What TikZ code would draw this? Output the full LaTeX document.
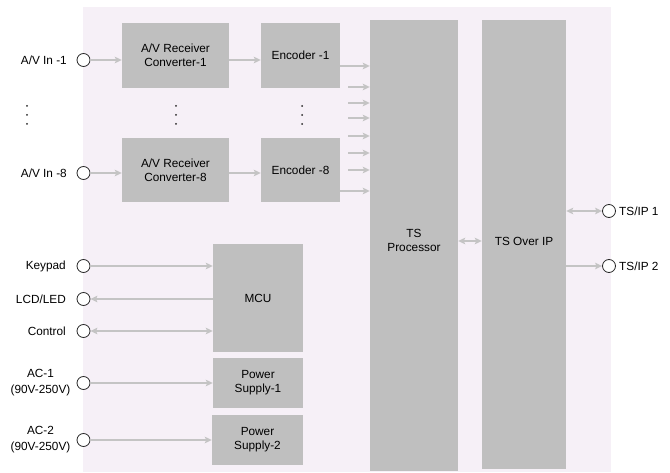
\documentclass[tikz,border=0pt]{standalone}
\usepackage{fontspec}
\setmainfont{Liberation Sans}
\usetikzlibrary{arrows.meta}
\definecolor{bgpink}{RGB}{246,240,247}
\definecolor{boxgray}{RGB}{191,191,191}
\definecolor{arrgray}{RGB}{196,196,196}
\definecolor{ringcol}{RGB}{40,40,40}
\tikzset{
  blk/.style={fill=boxgray, draw=none, align=center, inner sep=0pt, font=\fontsize{11.8}{14}\selectfont},
  port/.style={circle, draw=ringcol, fill=white, line width=0.8pt, minimum size=13pt, inner sep=0pt},
  lbl/.style={inner sep=0pt, align=center, font=\fontsize{11.8}{16}\selectfont},
  arr/.style={draw=arrgray, line width=1.6pt, -{Stealth[length=7pt,width=6.5pt,inset=1.5pt]}},
  barr/.style={draw=arrgray, line width=1.6pt, {Stealth[length=7pt,width=6.5pt,inset=1.5pt]}-{Stealth[length=7pt,width=6.5pt,inset=1.5pt]}},
  larr/.style={draw=arrgray, line width=1.6pt, {Stealth[length=7pt,width=6.5pt,inset=1.5pt]}-},
  vdot/.style={circle, fill=black!85, inner sep=0pt, minimum size=2pt}
}
\begin{document}
\begin{tikzpicture}[x=1pt,y=-1pt]
\useasboundingbox (0,0) rectangle (670,473);
\fill[bgpink] (83,7) rectangle (611,472);
% blocks
\node[blk, minimum width=107pt, minimum height=65pt] (rc1) at (175.5,55.5) {A/V Receiver\\Converter-1};
\node[blk, minimum width=107pt, minimum height=64pt] (rc8) at (175.5,170) {A/V Receiver\\Converter-8};
\node[blk, minimum width=79pt, minimum height=65pt] (enc1) at (300.5,55.5) {Encoder -1};
\node[blk, minimum width=79pt, minimum height=64pt] (enc8) at (300.5,170) {Encoder -8};
\node[blk, minimum width=88pt, minimum height=451pt] (tsp) at (414,245.5) {};
\node[lbl, font=\fontsize{11.8}{14}\selectfont] (tsplbl) at (414,240) {TS\\Processor};
\node[blk, minimum width=84pt, minimum height=449pt] (tso) at (524,244.5) {};
\node[lbl] (tsolbl) at (524,241) {TS Over IP};
\node[blk, minimum width=90pt, minimum height=108pt] (mcu) at (258,298) {MCU};
\node[blk, minimum width=90pt, minimum height=50pt] (ps1) at (258,383) {Power\\Supply-1};
\node[blk, minimum width=91pt, minimum height=50pt] (ps2) at (257.5,440) {Power\\Supply-2};
% ports
\node[port] (in1) at (83.5,60) {};
\node[port] (in8) at (83.5,173) {};
\node[port] (kp) at (83.5,266) {};
\node[port] (lcd) at (83.5,299) {};
\node[port] (ctl) at (83.5,331) {};
\node[port] (ac1) at (83.5,383) {};
\node[port] (ac2) at (83.5,440) {};
\node[port] (ip1) at (609,211) {};
\node[port] (ip2) at (609,266) {};
% port labels
\node[lbl, anchor=east] (lin1) at (67,60) {A/V In -1};
\node[lbl, anchor=east] (lin8) at (67,173) {A/V In -8};
\node[lbl, anchor=east] (lkp) at (66,266) {Keypad};
\node[lbl, anchor=east] (llcd) at (66,299) {LCD/LED};
\node[lbl, anchor=east] (lctl) at (66,331) {Control};
\node[lbl] (lac1) at (40.5,383) {AC-1\\(90V-250V)};
\node[lbl] (lac2) at (40.5,440) {AC-2\\(90V-250V)};
\node[lbl, anchor=west] (lip1) at (619,211) {TS/IP 1};
\node[lbl, anchor=west] (lip2) at (619,266) {TS/IP 2};
% vertical dots
\foreach \x/\n in {27/a,176/b,302/c}{
  \node[vdot] (d\n1) at (\x,106) {};
  \node[vdot] (d\n2) at (\x,115) {};
  \node[vdot] (d\n3) at (\x,124) {};
}
% short arrow starts
\coordinate (s1) at (348,87);
\coordinate (s2) at (348,103);
\coordinate (s3) at (348,118);
\coordinate (s4) at (348,136);
\coordinate (s5) at (348,153);
\coordinate (s6) at (348,170);
% connectors
\draw[arr] (in1.east) -- (in1.east -| rc1.west);
\draw[arr] (rc1.east |- in1.center) -- (enc1.west |- in1.center);
\draw[arr] ([yshift=-10.5pt]enc1.east) -- ([yshift=-10.5pt]enc1.east -| tsp.west);
\draw[arr] (in8.east) -- (in8.east -| rc8.west);
\draw[arr] (rc8.east |- in8.center) -- (enc8.west |- in8.center);
\draw[arr] ([yshift=-21pt]enc8.east) -- ([yshift=-21pt]enc8.east -| tsp.west);
\foreach \s in {s1,s2,s3,s4,s5,s6}{
  \draw[arr] (\s) -- (\s -| tsp.west);
}
\draw[arr] (kp.east) -- (kp.east -| mcu.west);
\draw[larr] (lcd.east) -- (lcd.east -| mcu.west);
\draw[barr] (ctl.east) -- (ctl.east -| mcu.west);
\draw[arr] (ac1.east) -- (ac1.east -| ps1.west);
\draw[arr] (ac2.east) -- (ac2.east -| ps2.west);
\draw[barr] (tsp.east |- tsolbl.center) -- (tso.west |- tsolbl.center);
\draw[barr] (tso.east |- ip1.center) -- (ip1.west);
\draw[arr] (tso.east |- ip2.center) -- (ip2.west);
\end{tikzpicture}
\end{document}
